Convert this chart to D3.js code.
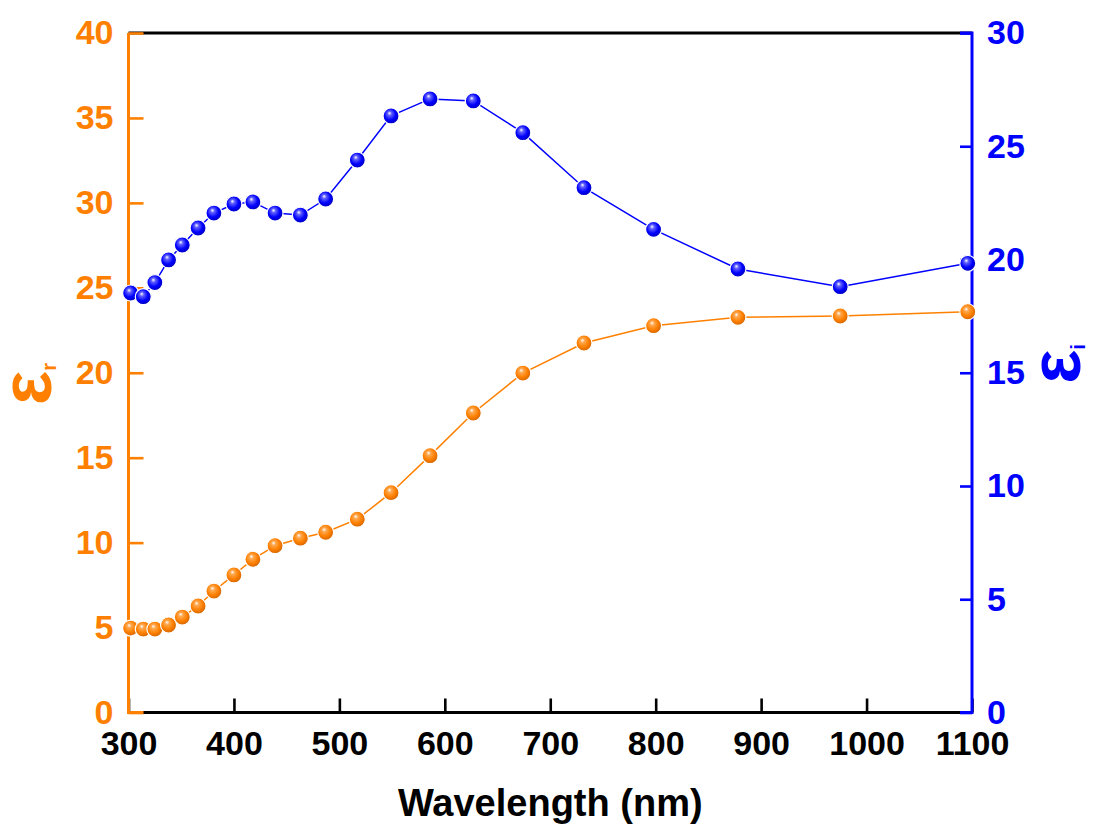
<!DOCTYPE html>
<html>
<head>
<meta charset="utf-8">
<script src="https://d3js.org/d3.v7.min.js"></script>
<style>
	body { margin: 0; background: #fff; }
	text { font-family: Arial, "Liberation Sans", sans-serif; font-weight: bold; }
</style>
</head>
<body>
<div class="canvas"></div>
<script>
// data
const wavelength = [302, 314, 325, 338, 351, 366, 381, 400, 418, 439, 463, 487, 517, 549, 586, 627, 674, 732, 798, 878, 975, 1096];
const epsReal = [4.97, 4.91, 4.91, 5.15, 5.62, 6.27, 7.15, 8.1, 9.02, 9.82, 10.26, 10.61, 11.38, 12.94, 15.12, 17.63, 19.98, 21.75, 22.77, 23.26, 23.34, 23.59];
const epsImag = [18.52, 18.36, 18.98, 19.98, 20.64, 21.39, 22.05, 22.45, 22.54, 22.05, 21.96, 22.67, 24.39, 26.34, 27.09, 27.0, 25.6, 23.17, 21.33, 19.58, 18.8, 19.83];

const xTicks = [300, 400, 500, 600, 700, 800, 900, 1000, 1100];
const leftTicks = [0, 5, 10, 15, 20, 25, 30, 35, 40];
const rightTicks = [0, 5, 10, 15, 20, 25, 30];

const dims = { width: 1097, height: 829 };
const plot = { left: 128.5, right: 972, top: 33, bottom: 712.5 };

const orange = '#ff8000';
const blue = '#0000ff';

const svg = d3.select('.canvas').append('svg')
	.attr('width', dims.width)
	.attr('height', dims.height);

const x = d3.scaleLinear().domain([300, 1100]).range([plot.left, plot.right]);
const yL = d3.scaleLinear().domain([0, 40]).range([plot.bottom, plot.top]);
const yR = d3.scaleLinear().domain([0, 30]).range([plot.bottom, plot.top]);

// sphere-looking markers
const defs = svg.append('defs');
const sphere = (id, light, base, dark) => {
	const g = defs.append('radialGradient')
		.attr('id', id)
		.attr('cx', '45%').attr('cy', '45%').attr('r', '60%')
		.attr('fx', '40%').attr('fy', '32%');
	g.append('stop').attr('offset', '0%').attr('stop-color', '#fff');
	g.append('stop').attr('offset', '22%').attr('stop-color', light);
	g.append('stop').attr('offset', '60%').attr('stop-color', base);
	g.append('stop').attr('offset', '100%').attr('stop-color', dark);
};
sphere('ballOrange', '#ffa850', orange, '#c86000');
sphere('ballBlue', '#6060ff', blue, '#0000b0');

// axes
const axisG = svg.append('g');

axisG.append('line')
	.attr('x1', plot.left).attr('x2', plot.right)
	.attr('y1', plot.top).attr('y2', plot.top)
	.attr('stroke', '#000').attr('stroke-width', 3);

const bottom = axisG.append('g')
	.attr('transform', `translate(0, ${plot.bottom})`)
	.call(d3.axisBottom(x).tickValues(d3.range(350, 1100, 100)).tickSize(-8).tickFormat(''))
	.call(d3.axisBottom(x).tickValues(xTicks).tickSize(-14).tickFormat(d3.format('d')).tickPadding(18));

const left = axisG.append('g')
	.attr('transform', `translate(${plot.left}, 0)`)
	.call(d3.axisLeft(yL).tickValues(d3.range(2.5, 40, 5)).tickSize(-8).tickFormat(''))
	.call(d3.axisLeft(yL).tickValues(leftTicks).tickSize(-15).tickPadding(15));

const right = axisG.append('g')
	.attr('transform', `translate(${plot.right}, 0)`)
	.call(d3.axisRight(yR).tickValues(d3.range(2.5, 30, 5)).tickSize(-6).tickFormat(''))
	.call(d3.axisRight(yR).tickValues(rightTicks).tickSize(-12).tickPadding(15));

const styleAxis = (g, col, txtCol) => {
	g.selectAll('.domain').remove();
	g.selectAll('line').attr('stroke', col).attr('stroke-width', 2.6);
	g.selectAll('text').attr('fill', txtCol).attr('font-size', 34);
};
styleAxis(bottom, '#000', '#000');
styleAxis(left, orange, orange);
styleAxis(right, blue, blue);
bottom.selectAll('text').attr('dy', '0.72em');

// axis lines
axisG.append('line')
	.attr('x1', plot.left).attr('x2', plot.right)
	.attr('y1', plot.bottom).attr('y2', plot.bottom)
	.attr('stroke', '#000').attr('stroke-width', 3);
axisG.append('path')
	.attr('d', `M${plot.left},${plot.top}V${plot.bottom}H${plot.left + 15}`)
	.attr('fill', 'none').attr('stroke', orange).attr('stroke-width', 3);
axisG.append('path')
	.attr('d', `M${plot.right - 12},${plot.top}H${plot.right}V${plot.bottom}H${plot.right - 12}`)
	.attr('fill', 'none').attr('stroke', blue).attr('stroke-width', 3);

// axis titles
svg.append('text')
	.attr('x', (plot.left + plot.right) / 2)
	.attr('y', 816)
	.attr('text-anchor', 'middle')
	.attr('font-size', 38)
	.text('Wavelength (nm)');

const epsLabel = (cx, cy, sub, col) => {
	const t = svg.append('text')
		.attr('transform', `translate(${cx}, ${cy}) rotate(-90)`)
		.attr('text-anchor', 'middle')
		.attr('fill', col)
		.attr('font-size', 72);
	t.append('tspan').text('ε');
	t.append('tspan').attr('font-size', 20).attr('dy', 5).text(sub);
};
epsLabel(51, 384, 'r', orange);
epsLabel(1080, 364, 'i', blue);

// series
const series = [
	{ vals: epsReal, y: yL, col: orange, fill: 'url(#ballOrange)' },
	{ vals: epsImag, y: yR, col: blue, fill: 'url(#ballBlue)' }
];

series.forEach(s => {
	const line = d3.line()
		.x((d, i) => x(wavelength[i]))
		.y(d => s.y(d));

	svg.append('path')
		.datum(s.vals)
		.attr('d', line)
		.attr('fill', 'none')
		.attr('stroke', s.col)
		.attr('stroke-width', 1.5);

	svg.append('g').selectAll('circle')
		.data(s.vals)
		.enter().append('circle')
		.attr('cx', (d, i) => x(wavelength[i]))
		.attr('cy', d => s.y(d))
		.attr('r', 8)
		.attr('fill', s.fill)
		.attr('stroke', '#fff')
		.attr('stroke-width', 1.2);
});
</script>
</body>
</html>
